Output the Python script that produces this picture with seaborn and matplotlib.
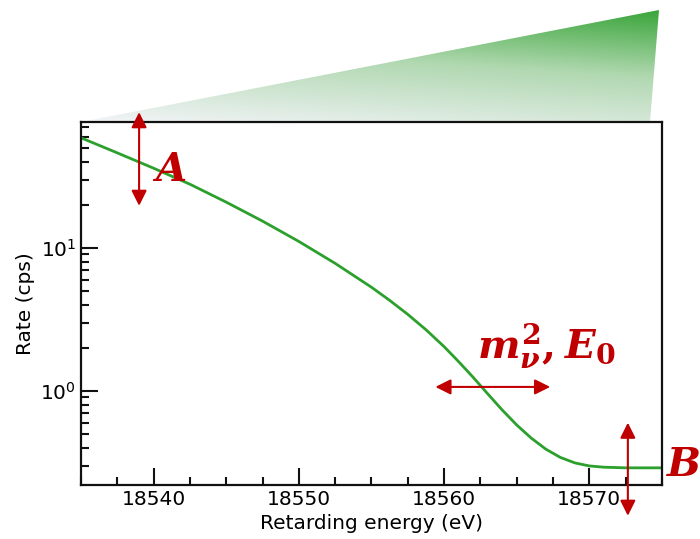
import matplotlib
matplotlib.use("Agg")
import matplotlib.pyplot as plt
import seaborn as sns
import numpy as np
from matplotlib.patches import Polygon
from matplotlib.colors import LinearSegmentedColormap
from matplotlib.ticker import MultipleLocator, LogLocator, NullFormatter

# spectrum
energy = [18535, 18537.5, 18540, 18542.5, 18545, 18547.5, 18550, 18552.5,
          18555, 18556.25, 18557.5, 18558.75, 18560, 18561, 18562, 18563,
          18564, 18565, 18566, 18567, 18568, 18569, 18570, 18571,
          18572.5, 18575]
rate = [58.9, 46.2, 36.1, 27.9, 20.9, 15.4, 11.1, 7.80,
        5.31, 4.30, 3.43, 2.68, 2.04, 1.603, 1.245, 0.955,
        0.736, 0.578, 0.468, 0.392, 0.343, 0.314, 0.299, 0.293,
        0.290, 0.290]

# annotation arrows (energy, rate)
arrow_a = [(18539.0, 89.0), (18539.0, 19.7)]
arrow_m = [(18559.4, 1.067), (18567.3, 1.067)]
arrow_b = [(18572.65, 0.60), (18572.65, 0.134)]

red = "#c00000"
green = "#2ca02c"

sns.set_style("white")
plt.rcParams["font.family"] = ["DejaVu Sans"]
plt.rcParams["mathtext.fontset"] = "custom"
plt.rcParams["mathtext.rm"] = "DejaVu Serif:bold"
plt.rcParams["mathtext.it"] = "DejaVu Serif:italic:bold"
plt.rcParams["mathtext.bf"] = "DejaVu Serif:bold"

fig = plt.figure(figsize=(7, 5.39), dpi=100)

# gradient wedge above the plot (figure pixel coords)
bg = fig.add_axes([0, 0, 1, 1], zorder=0)
bg.set_xlim(0, 700)
bg.set_ylim(539, 0)
bg.axis("off")
cmap = LinearSegmentedColormap.from_list(
    "wedge", [(0, "#f2f4f7"), (0.55, "#b0d8b0"), (1, "#3aa53a")])
gx, gy = np.meshgrid(np.linspace(0, 1, 300), np.linspace(0, 1, 150))
grad = 0.25 * gx + 0.75 * (1 - gy)
im = bg.imshow(grad, cmap=cmap, vmin=0, vmax=1, extent=(81, 660, 122, 10),
               origin="upper", aspect="auto")
tri = Polygon([(81, 122), (659, 10), (650, 122)], closed=True, transform=bg.transData)
im.set_clip_path(tri)

ax = fig.add_axes([0.1157, 0.1002, 0.83, 0.6735], zorder=1)
ax.patch.set_alpha(0)
sns.lineplot(x=energy, y=rate, color=green, lw=2, ax=ax)
ax.set_yscale("log")
ax.set_xlim(18535, 18575)
ax.set_ylim(0.22, 76)

ax.xaxis.set_major_locator(MultipleLocator(10))
ax.xaxis.set_minor_locator(MultipleLocator(2.5))
ax.yaxis.set_major_locator(LogLocator(base=10))
ax.yaxis.set_minor_locator(LogLocator(base=10, subs=np.arange(2, 10)))
ax.yaxis.set_minor_formatter(NullFormatter())
ax.tick_params(which="both", direction="in", bottom=True, left=True, top=False, right=False,
               width=1.5, color="#111111", labelcolor="black", labelsize=14.5)
ax.tick_params(which="major", length=12)
ax.tick_params(which="minor", length=6)
for s in ax.spines.values():
    s.set_linewidth(1.6)
    s.set_color("#111111")

ax.set_xlabel("Retarding energy (eV)", fontsize=14.5, color="black")
ax.set_ylabel("Rate (cps)", fontsize=14.5, color="black")

for (p0, p1) in [arrow_a, arrow_m, arrow_b]:
    ax.annotate("", xy=p1, xytext=p0, xycoords="data", annotation_clip=False,
                arrowprops=dict(arrowstyle="<|-|>", color=red, lw=1.5,
                                mutation_scale=23, shrinkA=0, shrinkB=0))

ax.text(18539.9, 35, r"$A$", color=red, fontsize=29, ha="left", va="center")
ax.text(18567.0, 1.40, r"$m_\nu^2, E_0$", color=red, fontsize=29, ha="center", va="bottom")
ax.text(18575.3, 0.305, r"$B$", color=red, fontsize=29, ha="left", va="center")

fig.savefig("out.png", dpi=100)
